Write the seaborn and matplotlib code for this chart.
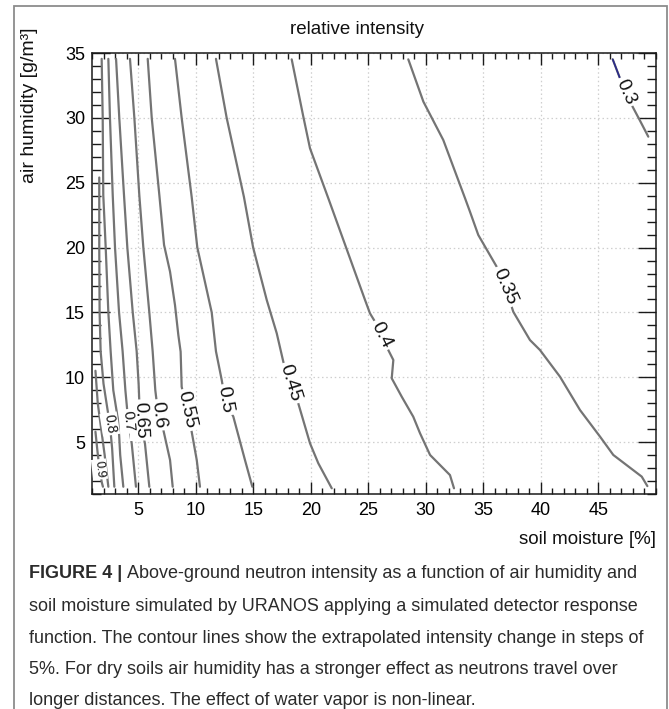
import numpy as np
import pandas as pd
import matplotlib
matplotlib.use("Agg")
import matplotlib.pyplot as plt
import seaborn as sns
from matplotlib.ticker import MultipleLocator, FixedLocator
from matplotlib.patches import Rectangle

# ---------------- data ----------------
# contour lines: soil moisture [%] (sm) vs air humidity [g/m3] (ah), top to bottom
sm_030 = [46.24, 46.87, 47.40, 47.89, 48.60, 49.33]
ah_030 = [34.51, 33.05, 32.00, 30.99, 29.80, 28.55]

sm_035 = [28.48, 29.79, 31.52, 33.41, 33.84, 34.56, 36.16, 36.90, 37.60, 39.05, 39.92, 41.66, 43.40, 45.14, 46.29, 48.76, 49.25]
ah_035 = [34.51, 31.25, 28.29, 23.80, 22.76, 20.97, 18.52, 17.00, 15.05, 12.87, 12.10, 10.04, 7.47, 5.42, 4.01, 2.34, 1.61]

sm_040 = [18.35, 19.36, 19.94, 21.53, 23.13, 24.72, 25.15, 25.59, 26.17, 26.74, 27.18, 27.04, 27.91, 28.91, 29.50, 30.37, 32.10, 32.45]
ah_040 = [34.51, 30.09, 27.65, 23.80, 19.87, 15.96, 14.93, 14.28, 13.26, 12.10, 11.33, 9.92, 8.50, 6.96, 5.68, 4.01, 2.46, 1.44]

sm_045 = [11.77, 12.70, 14.20, 15.00, 16.18, 17.05, 17.62, 18.20, 18.92, 19.94, 20.66, 21.83]
ah_045 = [34.55, 30.00, 23.90, 20.00, 15.96, 13.39, 11.20, 9.53, 7.99, 4.91, 3.37, 1.44]

sm_050 = [8.21, 8.79, 9.66, 10.15, 11.40, 11.77, 12.27, 12.56, 13.28, 14.29, 14.93]
ah_050 = [34.55, 30.00, 23.90, 20.00, 15.00, 12.00, 9.79, 8.25, 6.96, 3.62, 1.56]

sm_055 = [5.84, 6.19, 6.85, 7.26, 7.78, 8.21, 8.50, 8.70, 8.79, 9.23, 9.66, 10.10, 10.38]
ah_055 = [34.55, 30.00, 24.05, 20.20, 18.14, 15.57, 13.26, 11.97, 9.27, 7.47, 5.80, 3.62, 1.56]

sm_060 = [4.30, 4.68, 5.11, 5.46, 5.98, 6.27, 6.50, 6.76, 7.20, 7.78, 8.01]
ah_060 = [34.55, 30.00, 24.05, 20.00, 15.00, 12.00, 9.00, 7.09, 5.93, 3.62, 1.56]

sm_065 = [3.09, 3.37, 3.78, 4.07, 4.54, 4.88, 5.05, 5.17, 5.60, 5.98]
ah_065 = [34.55, 30.00, 24.05, 20.00, 15.00, 12.00, 9.50, 6.70, 4.90, 1.56]

sm_070 = [2.42, 2.56, 2.80, 3.00, 3.35, 3.66, 3.90, 4.15, 4.45, 4.82]
ah_070 = [34.55, 30.00, 24.05, 20.00, 15.00, 12.00, 9.00, 6.60, 4.90, 1.56]

sm_075 = [1.84, 1.93, 1.98, 2.19, 2.42, 2.62, 2.85, 3.30, 3.45, 3.72]
ah_075 = [34.55, 30.00, 24.05, 20.00, 15.00, 12.00, 9.00, 6.50, 4.00, 1.56]

sm_080 = [1.63, 1.63, 1.66, 1.75, 2.00, 2.35, 2.55, 2.75, 2.94]
ah_080 = [25.40, 20.00, 15.00, 12.00, 9.50, 7.50, 6.40, 4.50, 1.56]

sm_085 = [1.30, 1.50, 1.80, 2.10, 2.42]
ah_085 = [10.50, 8.00, 6.00, 4.00, 1.56]

sm_090 = [1.30, 1.45, 1.65, 1.85, 1.95]
ah_090 = [5.80, 4.50, 2.90, 1.90, 1.56]

levels = [0.30, 0.35, 0.40, 0.45, 0.50, 0.55, 0.60, 0.65, 0.70, 0.75, 0.80, 0.85, 0.90]
line_sm = [sm_030, sm_035, sm_040, sm_045, sm_050, sm_055, sm_060, sm_065, sm_070, sm_075, sm_080, sm_085, sm_090]
line_ah = [ah_030, ah_035, ah_040, ah_045, ah_050, ah_055, ah_060, ah_065, ah_070, ah_075, ah_080, ah_085, ah_090]

# blue start of the 0.3 contour
sm_030_blue = [46.24, 46.87]
ah_030_blue = [34.51, 33.05]

# contour labels
label_text = ["0.3", "0.35", "0.4", "0.45", "0.5", "0.55", "0.6", "0.65", "0.7", "0.8", "0.9"]
label_level = [0.30, 0.35, 0.40, 0.45, 0.50, 0.55, 0.60, 0.65, 0.70, 0.80, 0.90]
label_sm = [47.40, 36.90, 26.17, 18.20, 12.56, 9.23, 6.76, 5.17, 4.15, 2.55, 1.65]
label_ah = [32.00, 17.00, 13.26, 9.53, 8.25, 7.47, 7.09, 6.70, 6.60, 6.40, 2.90]
label_size = [13.5, 14, 14, 14, 14, 14, 14, 13.5, 11, 10, 9]

x_ticks = [5, 10, 15, 20, 25, 30, 35, 40, 45]
y_ticks = [5, 10, 15, 20, 25, 30, 35]

title = "relative intensity"
x_label = "soil moisture [%]"
y_label = "air humidity [g/m\u00b3]"
caption_bold = "FIGURE 4 |"
caption_lines = [
    "Above-ground neutron intensity as a function of air humidity and",
    "soil moisture simulated by URANOS applying a simulated detector response",
    "function. The contour lines show the extrapolated intensity change in steps of",
    "5%. For dry soils air humidity has a stronger effect as neutrons travel over",
    "longer distances. The effect of water vapor is non-linear.",
]

# ---------------- build long table ----------------
rows = []
for lev, xs, ys in zip(levels, line_sm, line_ah):
    for i, (xv, yv) in enumerate(zip(xs, ys)):
        rows.append({"level": lev, "idx": i, "sm": xv, "ah": yv})
df = pd.DataFrame(rows)
df_blue = pd.DataFrame({"sm": sm_030_blue, "ah": ah_030_blue, "level": [0.3] * len(sm_030_blue)})

# ---------------- figure ----------------
sns.set_theme(style="white")
plt.rcParams["font.family"] = ["Liberation Sans", "DejaVu Sans"]

W, H = 669, 709
fig = plt.figure(figsize=(W / 100, H / 100), dpi=100)
fig.patch.set_facecolor("white")

def fx(px):
    return px / W

def fy(py):
    return 1 - py / H

ax_l, ax_r, ax_t, ax_b = 92, 656, 53, 494
ax = fig.add_axes([fx(ax_l), fy(ax_b), (ax_r - ax_l) / W, (ax_b - ax_t) / H])
ax.set_xlim(1, 50)
ax.set_ylim(1, 35)

ax.set_axisbelow(True)
ax.xaxis.set_major_locator(FixedLocator(x_ticks))
ax.yaxis.set_major_locator(FixedLocator(y_ticks))
ax.xaxis.set_minor_locator(MultipleLocator(1))
ax.yaxis.set_minor_locator(MultipleLocator(1))
ax.grid(True, which="major", color="#cfcfcf", linestyle=(0, (1.2, 2.2)), linewidth=0.9)

sns.lineplot(data=df, x="sm", y="ah", units="level", estimator=None, sort=False,
             color="#747474", linewidth=1.6, ax=ax, legend=False)
sns.lineplot(data=df_blue, x="sm", y="ah", units="level", estimator=None, sort=False,
             color="#2a2a8a", linewidth=1.2, ax=ax, legend=False)

ax.set_xlabel("")
ax.set_ylabel("")
ax.set_xticklabels([str(t) for t in x_ticks])
ax.set_yticklabels([str(t) for t in y_ticks])

tick_col = "#1a1a1a"
ax.tick_params(axis="x", which="major", direction="in", length=8.6, width=1.0, top=True, bottom=True,
               labelsize=13, pad=6, colors=tick_col, labelcolor="black")
ax.tick_params(axis="x", which="minor", direction="in", length=4.3, width=1.0, top=True, bottom=True, colors=tick_col)
ax.tick_params(axis="y", which="major", direction="in", length=13, width=1.0, left=True, right=True,
               labelsize=13, pad=5, colors=tick_col, labelcolor="black")
ax.tick_params(axis="y", which="minor", direction="in", length=6.5, width=1.0, left=True, right=True, colors=tick_col)
for sp in ax.spines.values():
    sp.set_color("#1a1a1a")
    sp.set_linewidth(1.1)
    sp.set_visible(True)

# contour labels, rotated along the local line direction
def local_angle(xs, ys, lx, ly):
    pts = ax.transData.transform(np.column_stack([xs, ys]))
    p = ax.transData.transform((lx, ly))
    best = None
    for a, b in zip(pts[:-1], pts[1:]):
        d = b - a
        t = np.clip(np.dot(p - a, d) / max(np.dot(d, d), 1e-9), 0, 1)
        dist = np.linalg.norm(a + t * d - p)
        if best is None or dist < best[0]:
            best = (dist, d)
    d = best[1]
    ang = np.degrees(np.arctan2(d[1], d[0]))
    if ang > 90:
        ang -= 180
    if ang < -90:
        ang += 180
    return ang

for txt, lev, lx, ly, fs in zip(label_text, label_level, label_sm, label_ah, label_size):
    k = levels.index(lev)
    ang = local_angle(line_sm[k], line_ah[k], lx, ly)
    ax.text(lx, ly, txt, rotation=ang, rotation_mode="anchor", ha="center", va="center",
            fontsize=fs, color="#111111", zorder=5,
            bbox=dict(boxstyle="square,pad=0.12", fc="white", ec="none"))

# titles / axis labels
fig.text(fx(357), fy(30), title, ha="center", va="center", fontsize=13.5, color="#111111")
fig.text(fx(656), fy(540), x_label, ha="right", va="center", fontsize=13.5, color="#111111")
fig.text(fx(30), fy(105), y_label, ha="center", va="center", rotation=90, fontsize=14, color="#111111")

# caption
cap_x = 29
cap_base = [578, 611, 643, 674, 705]
cap_fs = 13
cap_col = "#2b2b2b"
t_bold = fig.text(fx(cap_x), fy(cap_base[0]), caption_bold, ha="left", va="baseline",
                  fontsize=cap_fs, fontweight="bold", color=cap_col)
ax.annotate(caption_lines[0], xy=(1, 0), xycoords=t_bold, xytext=(3.5, 0), textcoords="offset points",
            ha="left", va="bottom", fontsize=cap_fs, color=cap_col, annotation_clip=False)
for line, yb in zip(caption_lines[1:], cap_base[1:]):
    fig.text(fx(cap_x), fy(yb), line, ha="left", va="baseline", fontsize=cap_fs, color=cap_col)

# outer frame
frame = Rectangle((fx(14), -0.05), (667 - 14) / W, fy(6) + 0.05, transform=fig.transFigure,
                  fill=False, edgecolor="#8c8c8c", linewidth=1.3, clip_on=False)
fig.add_artist(frame)

fig.savefig("out.png", dpi=100)
